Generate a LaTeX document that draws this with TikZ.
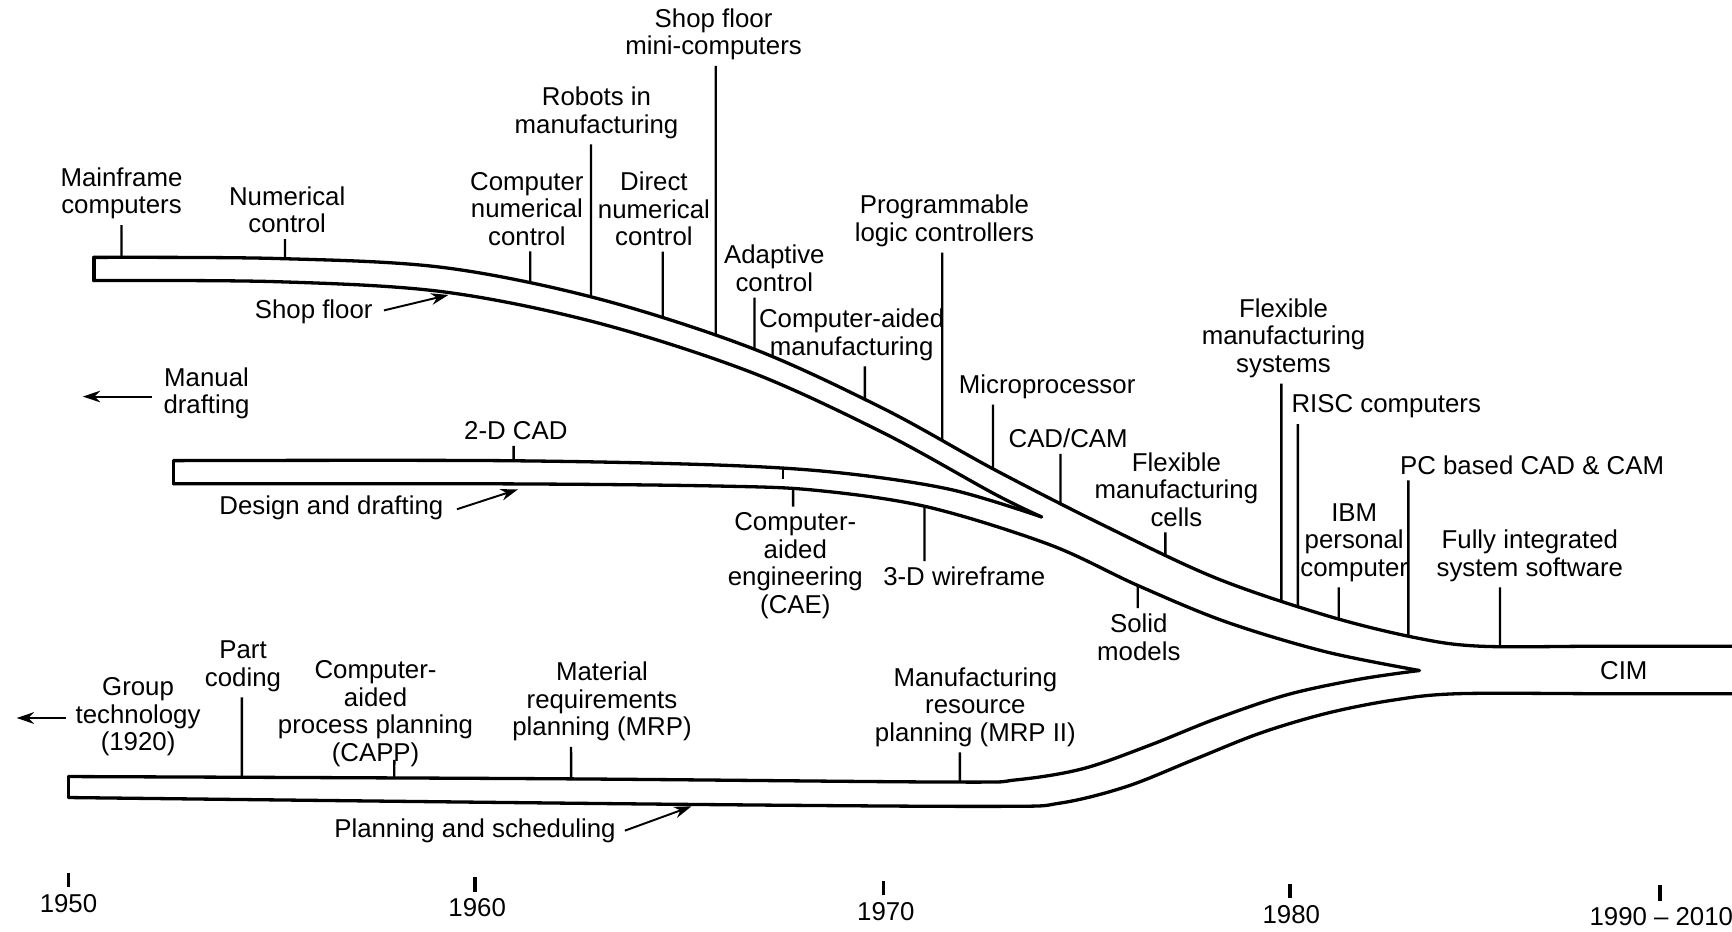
\documentclass[tikz,border=0pt]{standalone}
\usepackage{fontspec}
\setmainfont{Liberation Sans}
\usetikzlibrary{arrows.meta,intersections}

% vertical tick from below a label down to a named edge
\newcommand\tickdown[3]{%
  \path[name path=tkv] (#1.south -| #2,0) -- ++(0,700);
  \draw[tickline, name intersections={of=tkv and #3, by=tkend}]
    (#1.south -| #2,0) ++(0,5) -- (tkend);
}
% vertical tick from above a label up to a named edge
\newcommand\tickup[3]{%
  \path[name path=tkv] (#1.north -| #2,0) -- ++(0,-400);
  \draw[tickline, name intersections={of=tkv and #3, by=tkend}]
    (#1.north -| #2,0) ++(0,-5) -- (tkend);
}

\begin{document}
\begin{tikzpicture}[x=0.02cm, y=-0.02cm,
  band/.style={line width=1.7pt, line join=round, line cap=round},
  tickline/.style={line width=1.2pt},
  lbl/.style={align=center, inner sep=0pt, font=\fontsize{13.3}{14.2}\selectfont},
  pointer/.style={line width=1pt, -{Stealth[length=9pt,width=6pt]}},
  yeartick/.style={line width=1.8pt}]

\useasboundingbox (0,0) rectangle (1568,843);

% ---------- shop floor band ----------
\draw[band] (85,254) -- (85,233);
\draw[band, name path=shoptop] plot[smooth, tension=0.55] coordinates {
  (85,233) (250,234) (400,242) (540,270) (680,315) (800,370) (900,425)
  (1000,476) (1100,523) (1200,557) (1280,577) (1340,585) (1450,585) (1568,585)};
\draw[band, name path=shopbot] plot[smooth, tension=0.55] coordinates {
  (85,254) (250,255) (400,264) (540,292) (680,337) (800,392) (900,447) (943,468)};

% ---------- design and drafting band ----------
\draw[band] (157,438) -- (157,417);
\draw[band, name path=destop] plot[smooth, tension=0.55] coordinates {
  (157,417) (450,417) (650,421) (760,428) (860,443) (943,468)};
\draw[band, name path=desbot] plot[smooth, tension=0.55] coordinates {
  (157,438) (450,438) (650,440) (740,444) (840,459) (950,493) (1030,530)
  (1110,563) (1200,590) (1285,607)};

% ---------- planning and scheduling band ----------
\draw[band] (62,722) -- (62,703);
\draw[band, name path=plantop] plot[smooth, tension=0.55] coordinates {
  (62,703) (500,705) (860,708) (920,706) (980,696) (1040,675) (1100,651)
  (1165,629) (1230,615) (1285,607)};
\draw[band, name path=planbot] plot[smooth, tension=0.55] coordinates {
  (62,722) (600,728) (900,730) (960,727) (1020,712) (1080,688) (1140,664)
  (1200,646) (1260,634) (1320,628) (1450,628) (1568,628)};

% ---------- shop floor milestones ----------
\node[lbl] (mf)   at (110,175)  {Mainframe\\computers};
\node[lbl] (nc)   at (260,190)  {Numerical\\control};
\node[lbl] (cnc)  at (477,189)  {Computer\\numerical\\control};
\node[lbl] (rob)  at (540,102)  {Robots in\\manufacturing};
\node[lbl] (dnc)  at (592,189)  {Direct\\numerical\\control};
\node[lbl] (mini) at (646,31)   {Shop floor\\mini-computers};
\node[lbl] (adc)  at (701,243)  {Adaptive\\control};
\node[lbl] (cam)  at (771,303)  {Computer-aided\\manufacturing};
\node[lbl] (plc)  at (855,200)  {Programmable\\logic controllers};
\node[lbl] (mp)   at (948,350)  {Microprocessor};
\node[lbl] (cc)   at (967,397)  {CAD/CAM};
\node[lbl] (fmc)  at (1065,443) {Flexible\\manufacturing\\cells};
\node[lbl] (fms)  at (1162,306) {Flexible\\manufacturing\\systems};
\node[lbl] (risc) at (1255,368) {RISC computers};
\node[lbl] (pcb)  at (1387,421) {PC based CAD \& CAM};
\node[lbl] (ibm)  at (1226,491) {IBM\\personal\\computer};
\node[lbl] (fis)  at (1385,503) {Fully integrated\\system software};
\node[lbl] (cim)  at (1470,607) {CIM};

\tickdown{mf}{110}{shoptop}
\tickdown{nc}{258}{shoptop}
\tickdown{cnc}{480}{shoptop}
\tickdown{rob}{535}{shoptop}
\tickdown{dnc}{600}{shoptop}
\tickdown{mini}{648}{shoptop}
\tickdown{adc}{683}{shoptop}
\tickdown{cam}{783}{shoptop}
\tickdown{plc}{853}{shoptop}
\tickdown{mp}{899}{shoptop}
\tickdown{cc}{960}{shoptop}
\tickdown{fmc}{1055}{shoptop}
\tickdown{fms}{1160}{shoptop}
\tickdown{risc}{1175}{shoptop}
\tickdown{pcb}{1275}{shoptop}
\tickdown{ibm}{1212}{shoptop}
\tickdown{fis}{1358}{shoptop}

\node[lbl] (sf) at (284,282) {Shop floor};
\coordinate (sfpt) at (406,267);
\draw[pointer] (sf.east) ++(10,-1) -- (sfpt);

% ---------- design and drafting milestones ----------
\node[lbl] (man) at (187,356) {Manual\\drafting};
\coordinate (manend) at (75,359);
\draw[pointer] (man.west |- manend) ++(-10,0) -- (manend);

\node[lbl] (cad2) at (467,390) {2-D CAD};
\tickdown{cad2}{465}{destop}

\node[lbl] (dd) at (300,460) {Design and drafting};
\coordinate (ddpt) at (469,443);
\draw[pointer] (dd.east) ++(12,1) -- (ddpt);

\node[lbl] (cae) at (720,512) {Computer-\\aided\\engineering\\(CAE)};
\tickup{cae}{718}{desbot}
\path[name path=caev] (709,380) -- (709,470);
\draw[tickline, name intersections={of=caev and destop, by=caetop}]
  (caetop) -- ++(0,10);

\node[lbl] (wf) at (873,522) {3-D wireframe};
\tickup{wf}{837}{desbot}

\node[lbl] (sm) at (1031,577) {Solid\\models};
\tickup{sm}{1030}{desbot}

% ---------- planning and scheduling milestones ----------
\node[lbl] (gt)   at (125,649) {Group\\technology\\(1920)};
\coordinate (gtend) at (15,650);
\draw[pointer] (gt.west |- gtend) ++(-8,0) -- (gtend);

\node[lbl] (pcod) at (220,603) {Part\\coding};
\tickdown{pcod}{219}{plantop}

\node[lbl] (capp) at (340,646) {Computer-\\aided\\process planning\\(CAPP)};
\path[name path=cappv] (357,680) -- (357,760);
\draw[tickline, name intersections={of=cappv and plantop, by=cappend}]
  (357,688) -- (cappend);

\node[lbl] (mrp)  at (545,635) {Material\\requirements\\planning (MRP)};
\tickdown{mrp}{517}{plantop}

\node[lbl] (mrp2) at (883,640) {Manufacturing\\resource\\planning (MRP II)};
\tickdown{mrp2}{869}{plantop}

\node[lbl] (ps) at (430,752) {Planning and scheduling};
\coordinate (pspt) at (626,730);
\draw[pointer] (ps.east) ++(8,0) -- (pspt);

% ---------- time axis ----------
\node[lbl] (y50) at (62,818)   {1950};
\node[lbl] (y60) at (432,822)  {1960};
\node[lbl] (y70) at (802,825)  {1970};
\node[lbl] (y80) at (1169,828) {1980};
\node[lbl] (y90) at (1504,830) {1990 – 2010};
\draw[yeartick] (y50.north -| 62,0)   ++(0,-6) -- ++(0,-13);
\draw[yeartick] (y60.north -| 430,0)  ++(0,-6) -- ++(0,-13);
\draw[yeartick] (y70.north -| 800,0)  ++(0,-6) -- ++(0,-13);
\draw[yeartick] (y80.north -| 1168,0) ++(0,-6) -- ++(0,-13);
\draw[yeartick] (y90.north -| 1503,0) ++(0,-6) -- ++(0,-14);

\end{tikzpicture}
\end{document}
